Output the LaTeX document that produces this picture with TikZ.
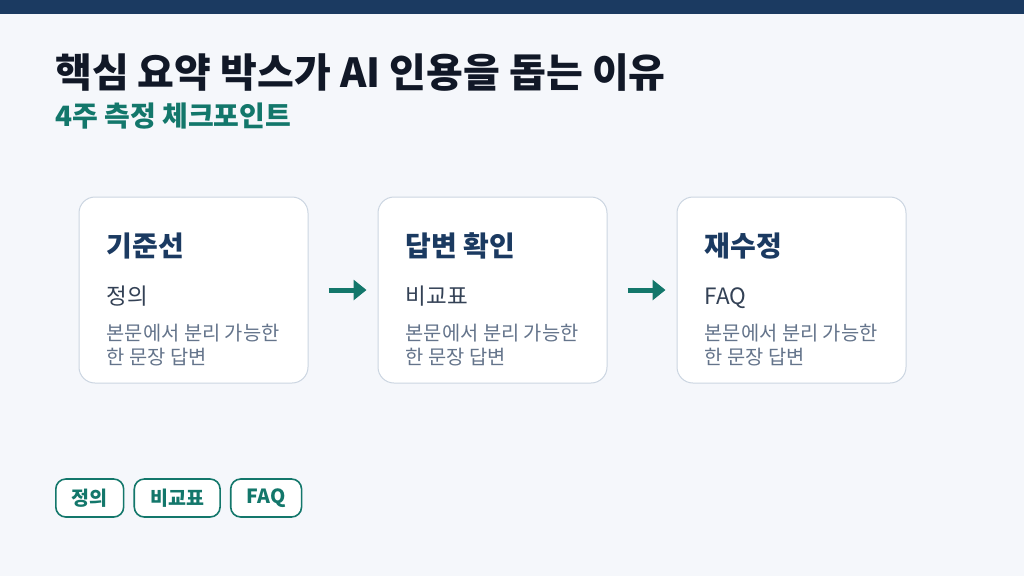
\documentclass[tikz,border=0pt]{standalone}
\usepackage{fontspec}
\setmainfont{Noto Sans CJK KR}
\usepackage{tikz}
\usetikzlibrary{positioning,arrows.meta,calc}

\definecolor{navy}{HTML}{1B3A61}
\definecolor{teal}{HTML}{13776B}
\definecolor{pagebg}{HTML}{F5F7FB}
\definecolor{cardline}{HTML}{CBD5E1}
\definecolor{bodytext}{HTML}{334155}
\definecolor{desctext}{HTML}{64748B}
\definecolor{ink}{HTML}{111827}

\begin{document}
\begin{tikzpicture}[x=1pt,y=-1pt,
    card/.style={draw=cardline,line width=1pt,fill=white,rounded corners=16pt,
        minimum width=229pt,minimum height=186pt,inner sep=0pt},
    cardtitle/.style={anchor=base west,inner sep=0pt,font=\fontsize{28}{32}\selectfont\bfseries,text=navy},
    cardsub/.style={anchor=base west,inner sep=0pt,font=\fontsize{22.5}{26}\selectfont,text=bodytext},
    carddesc/.style={anchor=base west,inner sep=0pt,align=left,font=\fontsize{19.8}{24}\selectfont,text=desctext},
    flow/.style={-{Triangle[length=13pt,width=20pt]},line width=5pt,draw=teal,shorten <=20pt,shorten >=11pt},
    tag/.style={draw=teal,line width=1.6pt,fill=white,rounded corners=10pt,text=teal,
        font=\fontsize{19.5}{22}\selectfont\bfseries,inner xsep=16pt,minimum height=38pt}]
    \useasboundingbox (0,0) rectangle (1024,576);
    \fill[pagebg] (0,0) rectangle (1024,576);
    \fill[navy] (0,0) rectangle (1024,14);

    % heading
    \node[anchor=base west,inner sep=0pt,font=\fontsize{40}{44}\selectfont\bfseries,text=ink] (title) at (55,87) {핵심 요약 박스가 AI 인용을 돕는 이유};
    \node[anchor=base west,inner sep=0pt,font=\fontsize{28}{32}\selectfont\bfseries,text=teal] (subtitle) at (55,126) {4주 측정 체크포인트};

    % cards
    \node[card] (c1) at (193.5,290) {};
    \node[card] (c2) at (492.5,290) {};
    \node[card] (c3) at (791.5,290) {};
    \foreach \c/\t/\s in {c1/기준선/정의, c2/답변 확인/비교표, c3/재수정/FAQ}{
        \node[cardtitle] (\c-title) at ([shift={(28,60)}]\c.north west) {\t};
        \node[cardsub] (\c-sub) at ([shift={(28,108)}]\c.north west) {\s};
        \node[carddesc] (\c-desc) at ([shift={(28,168)}]\c.north west) {본문에서 분리 가능한\\한 문장 답변};
    }
    \draw[flow] (c1) -- (c2);
    \draw[flow] (c2) -- (c3);

    % tags
    \node[tag,anchor=west] (tag1) at (55,498) {정의};
    \node[tag,right=9pt of tag1] (tag2) {비교표};
    \node[tag,right=9pt of tag2] (tag3) {FAQ};
\end{tikzpicture}
\end{document}
